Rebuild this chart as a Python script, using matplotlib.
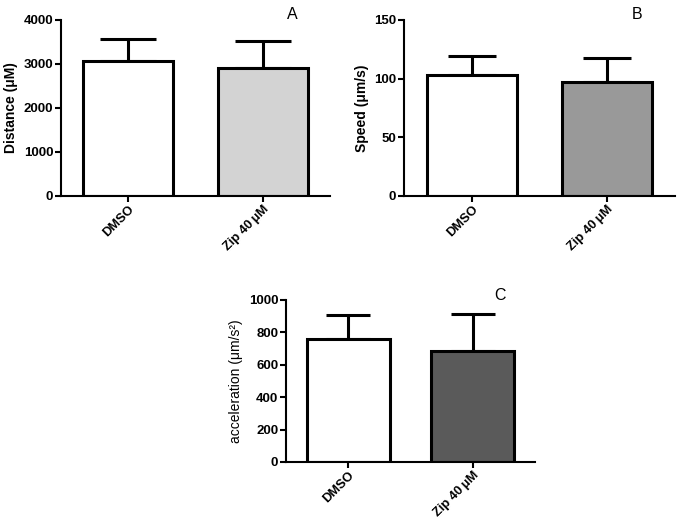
import matplotlib
matplotlib.use('Agg')
import matplotlib.pyplot as plt

plt.rcParams['font.family'] = ['Liberation Sans', 'DejaVu Sans']

groups = ['DMSO', 'Zip 40\u2009\u03bcM']

distance = [3070, 2905]
distance_err = [500, 620]

speed = [103, 97]
speed_err = [16.5, 21]

accel = [760, 688]
accel_err = [148, 227]

fills_a = ['white', '#d3d3d3']
fills_b = ['white', '#999999']
fills_c = ['white', '#5a5a5a']


def bar_panel(ax, values, errs, fills, ylabel, ylim, yticks, letter, cap, label_bold=True):
    x = range(len(values))
    ax.bar(x, values, width=0.667, color=fills, edgecolor='black', linewidth=2.2, zorder=2)
    ax.errorbar(x, values, yerr=[[0] * len(errs), errs], fmt='none', ecolor='black',
                elinewidth=2.2, capsize=cap, capthick=2.2, zorder=1)
    ax.set_xlim(-0.5, 1.5)
    ax.set_ylim(*ylim)
    ax.set_yticks(yticks)
    ax.set_xticks(list(x))
    ax.set_xticklabels(groups, rotation=45, ha='right', rotation_mode='anchor',
                       fontsize=9.3, fontweight='bold')
    for lab in ax.get_yticklabels():
        lab.set_fontsize(9.5)
        lab.set_fontweight('bold')
    ax.set_ylabel(ylabel, fontsize=10, fontweight='bold' if label_bold else 'normal', labelpad=4)
    ax.spines['top'].set_visible(False)
    ax.spines['right'].set_visible(False)
    ax.spines['left'].set_linewidth(1.5)
    ax.spines['bottom'].set_linewidth(1.5)
    ax.tick_params(axis='both', width=1.5, length=4, pad=1.5)
    ax.text(0.86, 1.03, letter, transform=ax.transAxes, fontsize=11.5, ha='center', va='center')


fig = plt.figure(figsize=(6.83, 5.25), dpi=100)

ax1 = fig.add_axes([61 / 683, 1 - 196 / 525, 269 / 683, 176 / 525])
bar_panel(ax1, distance, distance_err, fills_a, 'Distance (\u03bcM)', (0, 4000),
          [0, 1000, 2000, 3000, 4000], 'A', 20)

ax2 = fig.add_axes([404 / 683, 1 - 196 / 525, 271 / 683, 176 / 525])
bar_panel(ax2, speed, speed_err, fills_b, 'Speed (\u03bcm/s)', (0, 150),
          [0, 50, 100, 150], 'B', 17)

ax3 = fig.add_axes([286 / 683, 1 - 462 / 525, 249 / 683, 162 / 525])
bar_panel(ax3, accel, accel_err, fills_c, 'acceleration (\u03bcm/s\u00b2)', (0, 1000),
          [0, 200, 400, 600, 800, 1000], 'C', 16, label_bold=False)

fig.savefig('out.png', dpi=100)
